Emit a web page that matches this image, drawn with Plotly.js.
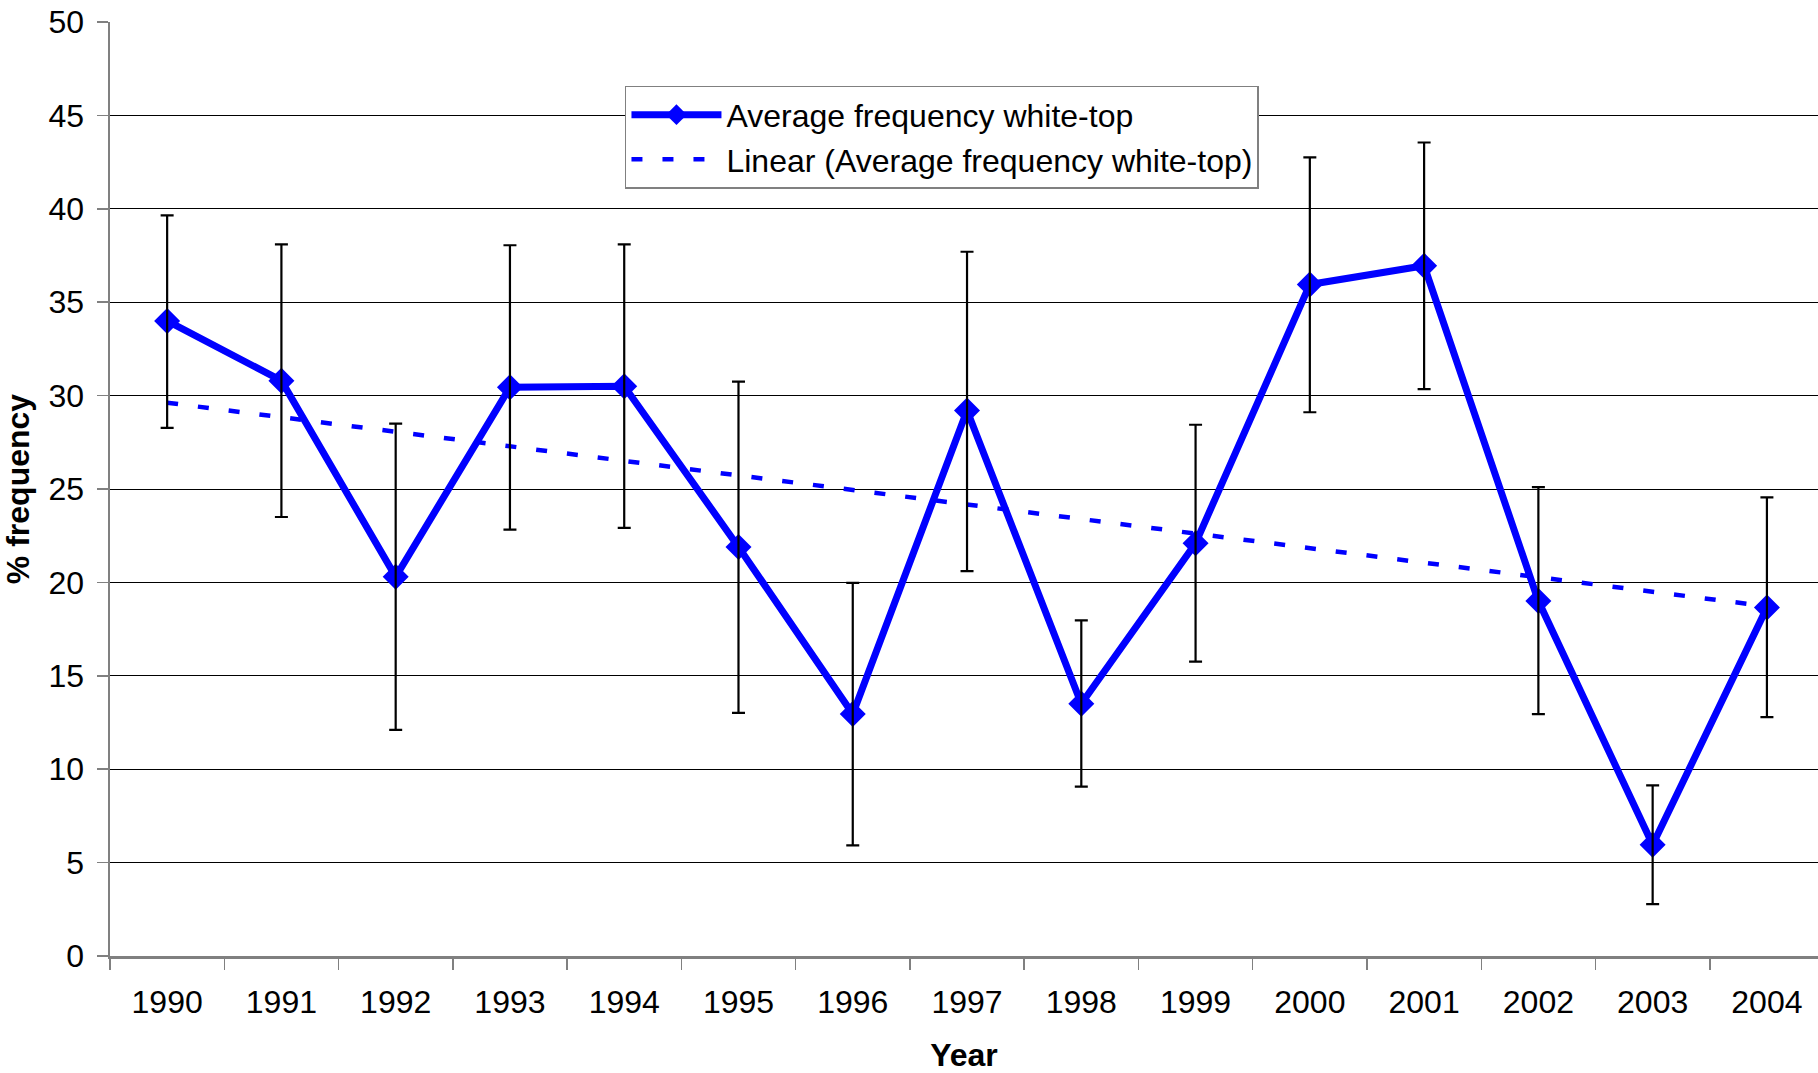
<!DOCTYPE html>
<html>
<head>
<meta charset="utf-8">
<script src="https://cdn.plot.ly/plotly-3.0.1.min.js"></script>
<style>
  html, body { margin: 0; padding: 0; background: #fff; overflow: hidden; }
  #chart { width: 1818px; height: 1073px; }
</style>
</head>
<body>
<div id="chart"></div>
<script>
// ---- Data ----
const years = ['1990','1991','1992','1993','1994','1995','1996','1997','1998','1999','2000','2001','2002','2003','2004'];
const avgFrequency = [34.0, 30.8, 20.3, 30.45, 30.5, 21.9, 12.95, 29.2, 13.5, 22.1, 35.95, 36.95, 19.0, 5.95, 18.65];
const errUpper = [39.65, 38.1, 28.5, 38.05, 38.1, 30.75, 19.97, 37.7, 17.97, 28.44, 42.75, 43.55, 25.1, 9.13, 24.55];
const errLower = [28.27, 23.5, 12.1, 22.82, 22.92, 13.02, 5.92, 20.6, 9.07, 15.76, 29.11, 30.35, 12.95, 2.78, 12.79];
const trendYears = ['1990', '2004'];
const trendValues = [29.62, 18.72];

const plusErr = avgFrequency.map((v, i) => errUpper[i] - v);
const minusErr = avgFrequency.map((v, i) => v - errLower[i]);

const FONT = 'Liberation Sans, Arial, sans-serif';
const BLUE = '#0000FF';
const FS = 32;

const traces = [
  {
    x: years, y: avgFrequency, type: 'scatter', mode: 'lines+markers',
    name: 'Average frequency white-top',
    line: { color: BLUE, width: 7 },
    marker: { symbol: 'diamond', size: 20, color: BLUE },
    hoverinfo: 'x+y'
  },
  {
    x: trendYears, y: trendValues, type: 'scatter', mode: 'lines',
    name: 'Linear (Average frequency white-top)',
    line: { color: BLUE, width: 4.5, dash: '11px,20px' },
    hoverinfo: 'skip'
  },
  {
    x: years, y: avgFrequency, type: 'scatter', mode: 'markers',
    showlegend: false, hoverinfo: 'skip',
    marker: { size: 1, color: 'rgba(0,0,0,0)' },
    error_y: {
      type: 'data', symmetric: false, array: plusErr, arrayminus: minusErr,
      color: '#000000', thickness: 2.2, width: 6.5, visible: true
    }
  }
];

const layout = {
  width: 1818, height: 1073,
  margin: { l: 110, r: 0, t: 22, b: 117 },
  paper_bgcolor: '#ffffff', plot_bgcolor: '#ffffff',
  font: { family: FONT, size: FS, color: '#000' },
  showlegend: true,
  legend: {
    x: 0.3015, y: 0.9316, xanchor: 'left', yanchor: 'top',
    bgcolor: '#ffffff', bordercolor: '#808080', borderwidth: 1.5,
    font: { family: FONT, size: FS, color: '#000' },
    itemwidth: 90,
    tracegroupgap: 0
  },
  xaxis: {
    type: 'category',
    range: [-0.5, 14.447],
    tickson: 'boundaries',
    ticks: 'outside', ticklen: 11, tickwidth: 1.5, tickcolor: '#808080',
    showline: true, linecolor: '#808080', linewidth: 2.5,
    showgrid: false, zeroline: false,
    tickfont: { family: FONT, size: FS, color: '#000' },
    ticklabelstandoff: 16,
    title: { text: 'Year', font: { family: FONT, size: FS, color: '#000', weight: 'bold' }, standoff: 27 },
    fixedrange: true
  },
  yaxis: {
    range: [0, 50], dtick: 5, tick0: 0,
    ticks: 'outside', ticklen: 11, tickwidth: 1.5, tickcolor: '#808080',
    showline: true, linecolor: '#808080', linewidth: 2.5,
    showgrid: true, gridcolor: '#000000', gridwidth: 1,
    zeroline: false,
    tickfont: { family: FONT, size: FS, color: '#000' },
    ticklabelstandoff: 6,
    title: { text: '% frequency', font: { family: FONT, size: FS, color: '#000', weight: 'bold' }, standoff: 22 },
    fixedrange: true
  },
  hovermode: false
};

Plotly.newPlot('chart', traces, layout, { displayModeBar: false, staticPlot: true });
</script>
</body>
</html>
